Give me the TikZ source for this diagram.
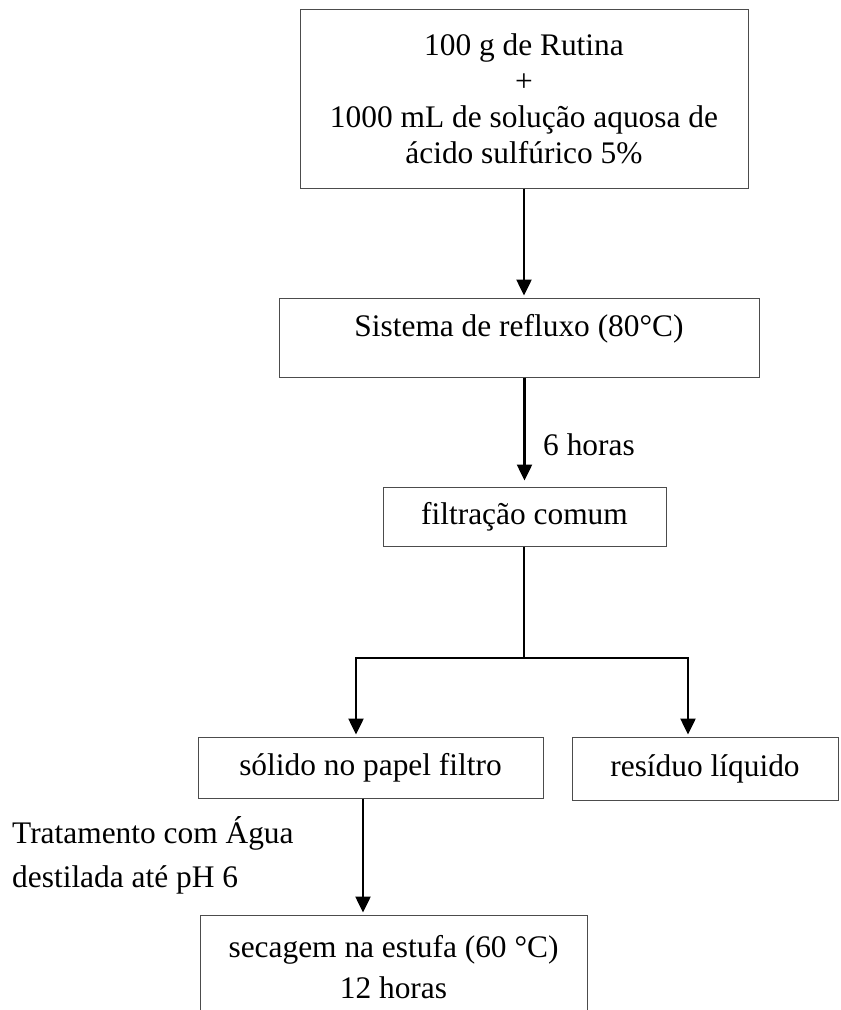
\documentclass[tikz,border=0pt]{standalone}
\usepackage{fontspec}
\setmainfont{Liberation Serif}
\usetikzlibrary{arrows.meta,calc}
\begin{document}
\begin{tikzpicture}[x=1pt,y=-1pt,
  box/.style={draw=black!70, line width=1pt, inner sep=0pt, align=center, font=\fontsize{31.4}{36}\selectfont},
  arr/.style={line width=2.5pt, -{Triangle[length=16pt,width=15pt]}, shorten >=2pt},
  conn/.style={line width=2pt},
  txt/.style={inner sep=0pt, font=\fontsize{31.4}{36}\selectfont}]
\useasboundingbox (0,0) rectangle (841,1010);
\fill[white] (0,0) rectangle (841,1010);

\node[box, minimum width=448pt, minimum height=179pt] (start) at (524,98.5)
  {100 g de Rutina\\+\\1000 mL de solução aquosa de\\ácido sulfúrico 5\%};
\node[box, minimum width=480pt, minimum height=79pt] (reflux) at (519,337.5) {};
\node[txt] (refluxtxt) at (519,329) {Sistema de refluxo (80°C)};
\node[box, minimum width=283pt, minimum height=59pt] (filt) at (524.5,516.5) {filtração comum};
\node[box, minimum width=345pt, minimum height=61pt] (solido) at (370.5,767.5) {sólido no papel filtro};
\node[box, minimum width=266pt, minimum height=63pt] (residuo) at (705,768.5) {resíduo líquido};
\node[box, minimum width=387pt, minimum height=105pt, font=\fontsize{31.4}{41}\selectfont] (secagem) at (393.5,967.5)
  {secagem na estufa (60 °C)\\12 horas};
\node[txt, anchor=west, align=left, font=\fontsize{31.4}{44}\selectfont] (trat) at (12,855)
  {Tratamento com Água\\destilada até pH 6};
\node[txt, anchor=west] (six) at (543,445) {6 horas};

\draw[arr] (start.south) -- (start.south |- reflux.north);
\draw[arr, shorten >=6pt] (filt.north |- reflux.south) -- (filt.north);
\coordinate (split) at (524,658);
\coordinate (jl) at (356,658);
\coordinate (jr) at (688,658);
\coordinate (jd) at (363,0);
\draw[conn] (filt.south -| split) -- (split);
\draw[arr] (split) -- (jl) -- (jl |- solido.north);
\draw[arr] (split) -- (jr) -- (jr |- residuo.north);
\draw[arr] (solido.south -| jd) -- (secagem.north -| jd);
\end{tikzpicture}
\end{document}
